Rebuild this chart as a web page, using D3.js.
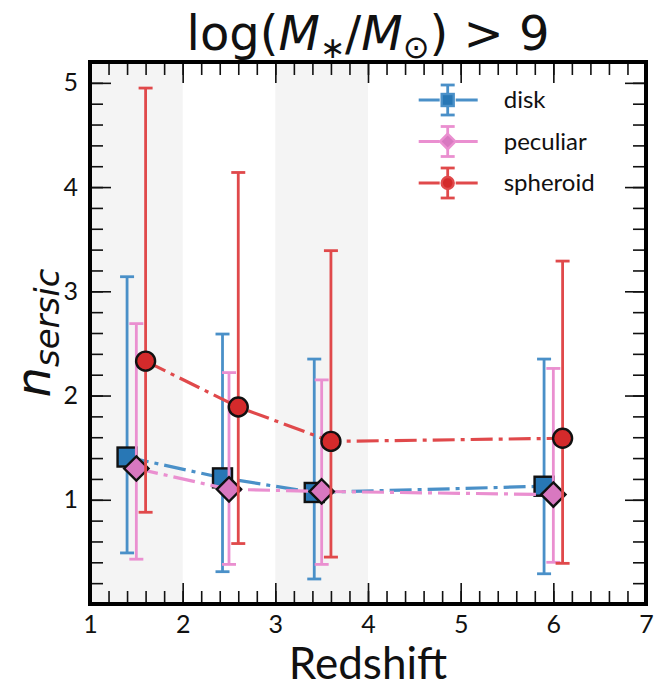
<!DOCTYPE html>
<html>
<head>
<meta charset="utf-8">
<script src="https://cdn.jsdelivr.net/npm/d3@7"></script>
<style>
  body { margin: 0; background: #fff; }
  text { font-family: Lato, "Open Sans", sans-serif; fill: #111; }
</style>
</head>
<body>
<div id="chart"></div>
<script>
// redshift bins shaded in the background
const bandStarts = [1, 3];
const bandEnds = [2, 4];

const seriesNames = ["disk", "peculiar", "spheroid"];

const diskZ = [1.40, 2.43, 3.42, 5.90];
const diskN = [1.41, 1.21, 1.07, 1.13];
const diskLo = [0.49, 0.31, 0.24, 0.29];
const diskHi = [3.14, 2.59, 2.35, 2.35];

const pecZ = [1.50, 2.50, 3.50, 6.00];
const pecN = [1.30, 1.10, 1.08, 1.05];
const pecLo = [0.43, 0.38, 0.38, 0.40];
const pecHi = [2.69, 2.22, 2.15, 2.26];

const sphZ = [1.60, 2.60, 3.60, 6.10];
const sphN = [2.33, 1.89, 1.56, 1.59];
const sphLo = [0.88, 0.58, 0.45, 0.39];
const sphHi = [4.95, 4.14, 3.39, 3.29];

const xTicks = [1, 2, 3, 4, 5, 6, 7];
const yTicks = [1, 2, 3, 4, 5];

const W = 668, H = 687;
const margin = { top: 62, right: 22, bottom: 83, left: 90 };
const width = W - margin.left - margin.right;
const height = H - margin.top - margin.bottom;

const svg = d3.select("#chart").append("svg")
    .attr("width", W)
    .attr("height", H);

const g = svg.append("g")
    .attr("transform", `translate(${margin.left},${margin.top})`);

const x = d3.scaleLinear().domain([1, 7]).range([0, width]);
const y = d3.scaleLinear().domain([0, 5.2]).range([height, 0]);

// shaded bands
g.selectAll(".band")
    .data(bandStarts.map((s, i) => ({ s: s, e: bandEnds[i] })))
    .enter().append("rect")
    .attr("x", d => x(d.s))
    .attr("y", 0)
    .attr("width", d => x(d.e) - x(d.s))
    .attr("height", height)
    .attr("fill", "#f4f4f4");

// ticks on all sides, pointing in
const minorX = d3.range(1, 7.001, 0.2);
const minorY = d3.range(0, 5.2, 0.2);
const majLen = 21, minLen = 13;

function tickAxis(axisFn, scale, vals, len, tx) {
    g.append("g")
        .attr("transform", tx)
        .call(axisFn(scale).tickValues(vals).tickSize(-len).tickFormat(""))
        .call(a => a.select(".domain").remove())
        .selectAll("line").attr("stroke", "#111").attr("stroke-width", 1.6);
}
tickAxis(d3.axisBottom, x, minorX, minLen, `translate(0,${height})`);
tickAxis(d3.axisBottom, x, xTicks, majLen, `translate(0,${height})`);
tickAxis(d3.axisTop, x, minorX, minLen, "translate(0,0)");
tickAxis(d3.axisTop, x, xTicks, majLen, "translate(0,0)");
tickAxis(d3.axisLeft, y, minorY, minLen, "translate(0,0)");
tickAxis(d3.axisLeft, y, yTicks, majLen, "translate(0,0)");
tickAxis(d3.axisRight, y, minorY, minLen, `translate(${width},0)`);
tickAxis(d3.axisRight, y, yTicks, majLen, `translate(${width},0)`);

// tick labels
g.append("g")
    .attr("transform", `translate(0,${height})`)
    .call(d3.axisBottom(x).tickValues(xTicks).tickSize(0).tickPadding(11).tickFormat(d3.format("d")))
    .call(a => a.select(".domain").remove())
    .selectAll("text")
    .style("font-size", "25px")
    .style("font-family", "Lato, sans-serif")
    .attr("fill", "#111");

g.append("g")
    .call(d3.axisLeft(y).tickValues(yTicks).tickSize(0).tickPadding(12).tickFormat(d3.format("d")))
    .call(a => a.select(".domain").remove())
    .selectAll("text")
    .style("font-size", "25px")
    .style("font-family", "Lato, sans-serif")
    .attr("fill", "#111");

const series = [
    { name: seriesNames[0], z: diskZ, n: diskN, lo: diskLo, hi: diskHi, line: "#4a90c8", fill: "#2877b5", shape: "square" },
    { name: seriesNames[1], z: pecZ, n: pecN, lo: pecLo, hi: pecHi, line: "#ea8fd0", fill: "#d878c0", shape: "diamond" },
    { name: seriesNames[2], z: sphZ, n: sphN, lo: sphLo, hi: sphHi, line: "#e0494b", fill: "#d42a2b", shape: "circle" }
];

const dash = "22,6,4,6";
const capW = 7;

function drawMarker(sel, shape, fill, edge, size) {
    if (shape === "square") {
        sel.append("rect")
            .attr("x", -size / 2).attr("y", -size / 2)
            .attr("width", size).attr("height", size)
            .attr("fill", fill).attr("stroke", edge).attr("stroke-width", 2.4);
    } else if (shape === "diamond") {
        const s = size * 0.64;
        sel.append("path")
            .attr("d", `M0,${-s}L${s},0L0,${s}L${-s},0Z`)
            .attr("fill", fill).attr("stroke", edge).attr("stroke-width", 2.4);
    } else {
        sel.append("circle")
            .attr("r", size / 2)
            .attr("fill", fill).attr("stroke", edge).attr("stroke-width", 2.4);
    }
}

series.forEach(s => {
    const pts = s.z.map((z, i) => ({ z: z, n: s.n[i], lo: s.lo[i], hi: s.hi[i] }));
    const sg = g.append("g");

    sg.append("path")
        .datum(pts)
        .attr("fill", "none")
        .attr("stroke", s.line)
        .attr("stroke-width", 3.2)
        .attr("stroke-dasharray", dash)
        .attr("d", d3.line().x(d => x(d.z)).y(d => y(d.n)));

    const eb = sg.selectAll(".eb").data(pts).enter().append("g");
    eb.append("line")
        .attr("x1", d => x(d.z)).attr("x2", d => x(d.z))
        .attr("y1", d => y(d.lo)).attr("y2", d => y(d.hi))
        .attr("stroke", s.line).attr("stroke-width", 2.8);
    eb.append("line")
        .attr("x1", d => x(d.z) - capW).attr("x2", d => x(d.z) + capW)
        .attr("y1", d => y(d.hi)).attr("y2", d => y(d.hi))
        .attr("stroke", s.line).attr("stroke-width", 2.8);
    eb.append("line")
        .attr("x1", d => x(d.z) - capW).attr("x2", d => x(d.z) + capW)
        .attr("y1", d => y(d.lo)).attr("y2", d => y(d.lo))
        .attr("stroke", s.line).attr("stroke-width", 2.8);

    sg.selectAll(".mk").data(pts).enter().append("g")
        .attr("transform", d => `translate(${x(d.z)},${y(d.n)})`)
        .each(function () { drawMarker(d3.select(this), s.shape, s.fill, "#111", 19); });
});

// legend
const legend = g.append("g").attr("transform", `translate(${x(4.86)}, 38)`);
series.forEach((s, i) => {
    const row = legend.append("g").attr("transform", `translate(0, ${i * 41.5})`);
    row.append("line").attr("x1", -29).attr("x2", -8).attr("y1", 0).attr("y2", 0)
        .attr("stroke", s.line).attr("stroke-width", 3);
    row.append("line").attr("x1", 8).attr("x2", 30).attr("y1", 0).attr("y2", 0)
        .attr("stroke", s.line).attr("stroke-width", 3);
    row.append("line").attr("x1", 0).attr("x2", 0).attr("y1", -15).attr("y2", 15)
        .attr("stroke", s.line).attr("stroke-width", 2.8);
    [-15, 15].forEach(cy => row.append("line").attr("x1", -capW).attr("x2", capW)
        .attr("y1", cy).attr("y2", cy).attr("stroke", s.line).attr("stroke-width", 2.8));
    drawMarker(row, s.shape, s.fill, s.line, 12);
    row.append("text")
        .attr("x", 56).attr("y", 0).attr("dy", "0.35em")
        .style("font-size", "24px")
        .text(s.name);
});

// frame
g.append("rect")
    .attr("width", width).attr("height", height)
    .attr("fill", "none").attr("stroke", "#000").attr("stroke-width", 4);

// title
const title = svg.append("text")
    .attr("x", margin.left + width / 2)
    .attr("y", 50)
    .attr("text-anchor", "middle")
    .style("font-family", "'DejaVu Sans', sans-serif")
    .style("font-size", "48px");
title.append("tspan").text("log(");
title.append("tspan").style("font-style", "italic").text("M");
title.append("tspan").attr("dy", 8).style("font-size", "30px").text("\u2217");
title.append("tspan").attr("dy", -8).text("/");
title.append("tspan").style("font-style", "italic").text("M");
title.append("tspan").attr("dy", 8).style("font-size", "32px").text("\u2299");
title.append("tspan").attr("dy", -8).text(") > 9");

// axis labels
svg.append("text")
    .attr("x", margin.left + width / 2)
    .attr("y", 679)
    .attr("text-anchor", "middle")
    .style("font-size", "44px")
    .text("Redshift");

const yl = svg.append("text")
    .attr("transform", `translate(50, ${margin.top + height / 2}) rotate(-90)`)
    .attr("text-anchor", "middle")
    .style("font-family", "'DejaVu Sans', sans-serif")
    .style("font-style", "italic");
yl.append("tspan").style("font-size", "48px").text("n");
yl.append("tspan").attr("dy", 9).style("font-size", "34px").text("sersic");
</script>
</body>
</html>
